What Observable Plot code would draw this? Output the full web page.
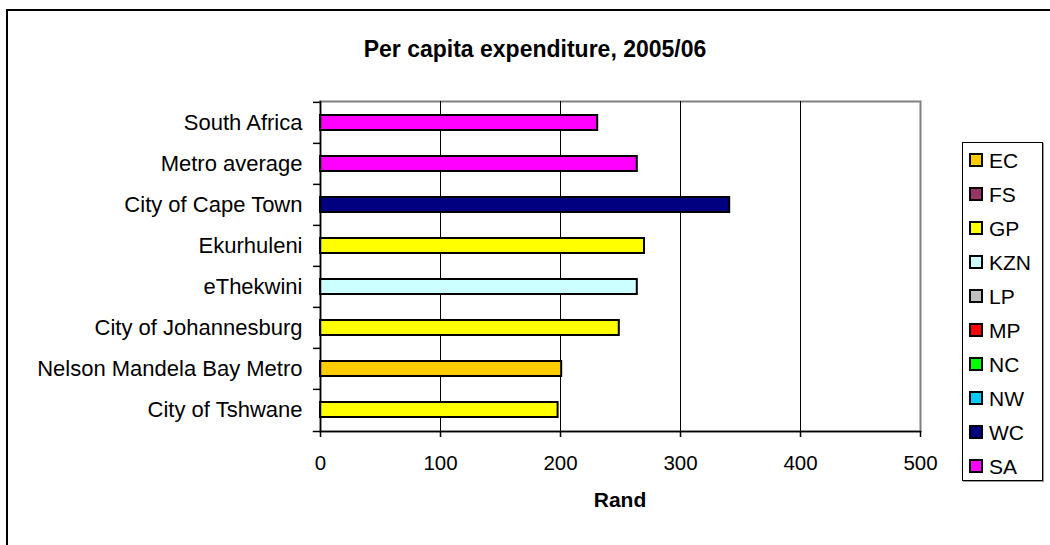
<!DOCTYPE html>
<html>
<head>
<meta charset="utf-8">
<script src="https://cdn.jsdelivr.net/npm/d3@7"></script>
<script src="https://cdn.jsdelivr.net/npm/@observablehq/plot@0.6"></script>
<style>
  html, body { margin: 0; padding: 0; background: #fff; overflow: hidden; }
  #wrap { position: relative; width: 1050px; height: 545px; overflow: hidden; font-family: "Liberation Sans", Arial, sans-serif; }
  #outer { position: absolute; left: 6px; top: 9px; width: 1100px; height: 600px; border-left: 2px solid #000; border-top: 2px solid #000; }
  #chart { position: absolute; left: 0; top: 0; }
  #title { position: absolute; left: 235px; width: 600px; top: 38px; text-align: center; font-weight: bold; font-size: 23px; line-height: 23px; color: #000; }
  #xlabel { position: absolute; left: 520px; width: 200px; top: 489px; text-align: center; font-weight: bold; font-size: 21px; line-height: 21px; color: #000; }
  #legend { position: absolute; left: 962px; top: 142px; width: 81px; height: 339px; box-sizing: border-box; border: 1px solid #000; box-shadow: 1px 1px 0 #999; background: #fff; }
  .item { height: 34px; display: flex; align-items: center; padding-left: 6px; }
  .sw { width: 14px; height: 14px; box-sizing: border-box; border: 2px solid #000; margin-right: 6px; flex: none; }
  .lt { font-size: 21px; line-height: 21px; color: #000; }
</style>
</head>
<body>
<div id="wrap">
  <div id="outer"></div>
  <div id="chart"></div>
  <div id="title"></div>
  <div id="xlabel"></div>
  <div id="legend"></div>
</div>
<script>
// ---- data ----
const titleText = "Per capita expenditure, 2005/06";
const xAxisLabel = "Rand";
const categories = [
  "South Africa",
  "Metro average",
  "City of Cape Town",
  "Ekurhuleni",
  "eThekwini",
  "City of Johannesburg",
  "Nelson Mandela Bay Metro",
  "City of Tshwane"
];
const values = [231, 264, 341, 270, 264, 249, 201, 198];
const provinces = ["SA", "SA", "WC", "GP", "KZN", "GP", "EC", "GP"];
const legendCodes = ["EC", "FS", "GP", "KZN", "LP", "MP", "NC", "NW", "WC", "SA"];
const legendColors = ["#FFCC00", "#993366", "#FFFF00", "#CCFFFF", "#C0C0C0", "#FF0000", "#00FF00", "#00CCFF", "#000080", "#FF00FF"];
const xTicks = [0, 100, 200, 300, 400, 500];
const gridTicks = [100, 200, 300, 400];

const rows = categories.map((c, i) => ({name: c, value: values[i], prov: provinces[i]}));

const W = 1050, H = 545, mT = 101, mB = 114, mL = 320, mR = 130;
const step = (H - mT - mB) / categories.length;

const chart = Plot.plot({
  width: W,
  height: H,
  marginTop: mT,
  marginBottom: mB,
  marginLeft: mL,
  marginRight: mR,
  style: {fontFamily: "Liberation Sans, Arial, sans-serif", background: "transparent", color: "#000"},
  x: {domain: [0, 500], ticks: xTicks, label: null},
  y: {domain: categories, paddingInner: 0.63, paddingOuter: 0.315, label: null},
  color: {domain: legendCodes, range: legendColors},
  marks: [
    Plot.frame({stroke: "#808080", strokeWidth: 2}),
    Plot.gridX(gridTicks, {stroke: "#000", strokeOpacity: 1, strokeWidth: 1}),
    Plot.barX(rows, {x: "value", y: "name", fill: "prov", stroke: "#000", strokeWidth: 2}),
    Plot.frame({anchor: "left", stroke: "#000", strokeWidth: 1.5}),
    Plot.frame({anchor: "bottom", stroke: "#000", strokeWidth: 1.5, insetLeft: -7}),
    Plot.ruleY(categories, {y: d => d, x1: 0, x2: 0, insetLeft: -7, dy: -step / 2, stroke: "#000", strokeWidth: 1.5}),
    Plot.axisX({ticks: xTicks, tickSize: 6, tickPadding: 18, fontSize: 20.5, label: null, stroke: "#000", strokeWidth: 1.5}),
    Plot.axisY({tickSize: 0, tickPadding: 18, fontSize: 22, label: null})
  ]
});
document.getElementById("chart").appendChild(chart);
document.getElementById("title").textContent = titleText;
document.getElementById("xlabel").textContent = xAxisLabel;

const leg = document.getElementById("legend");
legendCodes.forEach((code, i) => {
  const it = document.createElement("div");
  it.className = "item";
  const sw = document.createElement("div");
  sw.className = "sw";
  sw.style.background = legendColors[i];
  const t = document.createElement("span");
  t.className = "lt";
  t.textContent = code;
  it.appendChild(sw);
  it.appendChild(t);
  leg.appendChild(it);
});
</script>
</body>
</html>
